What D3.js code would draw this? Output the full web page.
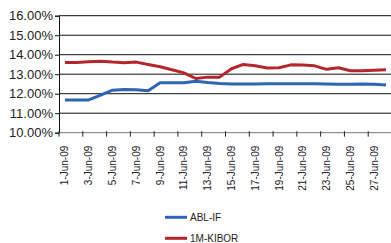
<!DOCTYPE html>
<html>
<head>
<meta charset="utf-8">
<script src="https://cdn.jsdelivr.net/npm/d3@7"></script>
<style>
  body { margin: 0; background: #fff; }
  svg { display: block; font-family: "Liberation Sans", Arial, sans-serif; }
</style>
</head>
<body>
<svg id="chart" width="391" height="243"></svg>
<script>
// data, June 2009
const days = d3.range(1, 29).map(d => d + "-Jun-09");
const ablIF = [11.68, 11.68, 11.68, 11.93, 12.18, 12.22, 12.20, 12.15, 12.56, 12.56,
  12.56, 12.64, 12.57, 12.52, 12.50, 12.50, 12.50, 12.51, 12.51, 12.51,
  12.51, 12.51, 12.50, 12.49, 12.49, 12.50, 12.48, 12.45];
const kibor = [13.60, 13.60, 13.64, 13.67, 13.62, 13.59, 13.62, 13.50, 13.38, 13.23,
  13.07, 12.78, 12.85, 12.85, 13.28, 13.50, 13.43, 13.32, 13.33, 13.48,
  13.47, 13.43, 13.25, 13.33, 13.18, 13.18, 13.20, 13.23];
const yTicks = [10, 11, 12, 13, 14, 15, 16];
const seriesNames = ["ABL-IF", "1M-KIBOR"];
const seriesColors = ["#2e64b4", "#b3262b"];

const svg = d3.select("#chart");
const plotLeft = 59, plotRight = 392, plotTop = 15.7, plotBottom = 132.7;

const x = d3.scaleBand().domain(days).range([plotLeft, plotRight]);
const y = d3.scaleLinear().domain([10, 16]).range([plotBottom, plotTop]);

// gridlines
svg.append("g")
  .selectAll("line")
  .data(yTicks.slice(1))
  .enter()
  .append("line")
  .attr("x1", plotLeft).attr("x2", plotRight)
  .attr("y1", d => y(d)).attr("y2", d => y(d))
  .attr("stroke", "#111")
  .attr("stroke-width", 1);

// y axis
const yAxis = svg.append("g")
  .attr("transform", `translate(${plotLeft},0)`)
  .call(d3.axisLeft(y).tickValues(yTicks).tickSize(4).tickFormat(d => d.toFixed(2) + "%"));
yAxis.select(".domain").attr("stroke", "#111");
yAxis.selectAll(".tick line").attr("stroke", "#111");
yAxis.selectAll("text")
  .attr("x", -6)
  .attr("font-size", 13)
  .attr("fill", "#222")
  .attr("font-family", "Liberation Sans, Arial, sans-serif");

// x axis: ticks every two days, between categories
const xAxisG = svg.append("g").attr("transform", `translate(0,${plotBottom})`);
xAxisG.append("line")
  .attr("x1", plotLeft).attr("x2", plotRight)
  .attr("y1", 0).attr("y2", 0)
  .attr("stroke", "#777");
xAxisG.selectAll("line.tick")
  .data(days.filter((d, i) => i % 2 === 0))
  .enter()
  .append("line")
  .attr("class", "tick")
  .attr("x1", d => x(d)).attr("x2", d => x(d))
  .attr("y1", -1.5).attr("y2", 4)
  .attr("stroke", "#222");
xAxisG.selectAll("text")
  .data(days.filter((d, i) => i % 2 === 0))
  .enter()
  .append("text")
  .attr("transform", d => `translate(${x(d) + x.bandwidth() / 2 + 3.5},13) rotate(-90)`)
  .attr("text-anchor", "end")
  .attr("font-size", 10)
  .attr("fill", "#222")
  .text(d => d);

// lines
const line = d3.line()
  .x((d, i) => x(days[i]) + x.bandwidth() / 2)
  .y(d => y(d));

[ablIF, kibor].forEach((vals, k) => {
  svg.append("path")
    .datum(vals)
    .attr("d", line)
    .attr("fill", "none")
    .attr("stroke", seriesColors[k])
    .attr("stroke-width", 3)
    .attr("stroke-linejoin", "round");
});

// legend
const legend = svg.append("g");
seriesNames.forEach((name, k) => {
  const ly = 217.3 + k * 21;
  legend.append("line")
    .attr("x1", 165).attr("x2", 187)
    .attr("y1", ly).attr("y2", ly)
    .attr("stroke", seriesColors[k])
    .attr("stroke-width", 3);
  legend.append("text")
    .attr("x", 190).attr("y", ly + 3.6)
    .attr("font-size", 10)
    .attr("fill", "#222")
    .text(name);
});
</script>
</body>
</html>
